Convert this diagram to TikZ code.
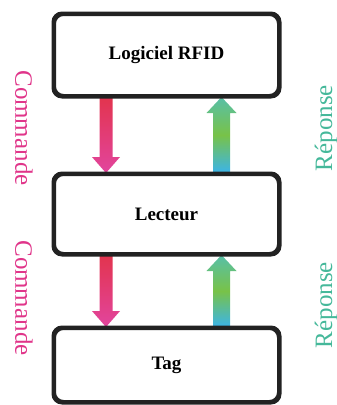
\documentclass[tikz,border=0pt]{standalone}
\usepackage{fontspec}
\setmainfont{Liberation Serif}
\definecolor{boxline}{HTML}{222222}
\definecolor{cmdcol}{HTML}{E0358A}
\definecolor{repcol}{HTML}{45B89A}
\definecolor{downtop}{HTML}{E2344E}
\definecolor{downbot}{HTML}{E2459E}
\definecolor{uptop}{HTML}{58C0A8}
\definecolor{upmid}{HTML}{78C248}
\definecolor{upbot}{HTML}{3BB4EA}
\tikzset{
  box/.style={draw=boxline, line width=3pt, rounded corners=9pt, fill=white,
    inner sep=0pt, minimum width=224pt, font=\fontsize{19}{19}\selectfont\bfseries},
  cmdlabel/.style={rotate=-90, text=cmdcol, font=\fontsize{25}{25}\selectfont},
  replabel/.style={rotate=90, text=repcol, font=\fontsize{25}{25}\selectfont},
  downarrow/.style={top color=downtop, bottom color=downbot},
  uparrow/.style={top color=uptop, bottom color=upbot, middle color=upmid},
}
\begin{document}
\begin{tikzpicture}[x=1pt,y=-1pt]
\useasboundingbox (0,0) rectangle (337,405);
\node[box, minimum height=81pt] (log) at (166.5,55) {Logiciel RFID};
\node[box, minimum height=79pt] (lec) at (166.5,214) {Lecteur};
\node[box, minimum height=73pt] (tag) at (166.5,365) {Tag};
% connector end points
\coordinate (d1s) at ([xshift=-60.5pt]log.south);
\coordinate (d1e) at ([xshift=-60.5pt]lec.north);
\coordinate (u1s) at ([xshift=55pt]lec.north);
\coordinate (u1e) at ([xshift=55pt]log.south);
\coordinate (d2s) at ([xshift=-60.5pt]lec.south);
\coordinate (d2e) at ([xshift=-60.5pt]tag.north);
\coordinate (u2s) at ([xshift=55pt]tag.north);
\coordinate (u2e) at ([xshift=55pt]lec.south);
\shade[downarrow] ([xshift=-6.5pt]d1s) -- ([xshift=6.5pt]d1s) -- ([xshift=6.5pt,yshift=16pt]d1e) -- ([xshift=14pt,yshift=16pt]d1e) -- (d1e) -- ([xshift=-14pt,yshift=16pt]d1e) -- ([xshift=-6.5pt,yshift=16pt]d1e) -- cycle;
\shade[downarrow] ([xshift=-6.5pt]d2s) -- ([xshift=6.5pt]d2s) -- ([xshift=6.5pt,yshift=16pt]d2e) -- ([xshift=14pt,yshift=16pt]d2e) -- (d2e) -- ([xshift=-14pt,yshift=16pt]d2e) -- ([xshift=-6.5pt,yshift=16pt]d2e) -- cycle;
\shade[uparrow] ([xshift=-8.5pt]u1s) -- ([xshift=8.5pt]u1s) -- ([xshift=8.5pt,yshift=-16pt]u1e) -- ([xshift=15pt,yshift=-16pt]u1e) -- (u1e) -- ([xshift=-15pt,yshift=-16pt]u1e) -- ([xshift=-8.5pt,yshift=-16pt]u1e) -- cycle;
\shade[uparrow] ([xshift=-8.5pt]u2s) -- ([xshift=8.5pt]u2s) -- ([xshift=8.5pt,yshift=-16pt]u2e) -- ([xshift=15pt,yshift=-16pt]u2e) -- (u2e) -- ([xshift=-15pt,yshift=-16pt]u2e) -- ([xshift=-8.5pt,yshift=-16pt]u2e) -- cycle;
% redraw box borders over arrow ends
\draw[boxline, line width=3pt, rounded corners=9pt] (log.south west) rectangle (log.north east);
\draw[boxline, line width=3pt, rounded corners=9pt] (lec.south west) rectangle (lec.north east);
\draw[boxline, line width=3pt, rounded corners=9pt] (tag.south west) rectangle (tag.north east);
\node[cmdlabel] (c1) at (24,128) {Commande};
\node[cmdlabel] (c2) at (24,298) {Commande};
\node[replabel] (r1) at (326,128) {Réponse};
\node[replabel] (r2) at (326,305) {Réponse};
\end{tikzpicture}
\end{document}
